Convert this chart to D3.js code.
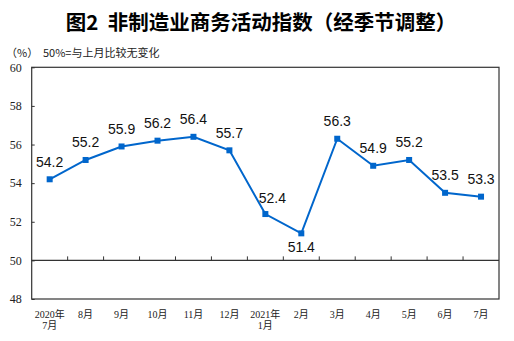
<!DOCTYPE html>
<html>
<head>
<meta charset="utf-8">
<script src="https://cdn.jsdelivr.net/npm/d3@7"></script>
<style>
  html, body { margin: 0; padding: 0; background: #fff; }
  svg { display: block; }
</style>
</head>
<body>
<svg id="chart" width="514" height="341"></svg>
<script>
// Months (two-line labels split on "\n") and index values
const categories = ["2020年\n7月", "8月", "9月", "10月", "11月", "12月", "2021年\n1月",
                    "2月", "3月", "4月", "5月", "6月", "7月"];
const values = [54.2, 55.2, 55.9, 56.2, 56.4, 55.7, 52.4, 51.4, 56.3, 54.9, 55.2, 53.5, 53.3];
const yTicks = [48, 50, 52, 54, 56, 58, 60];

const svg = d3.select("#chart");
const plotLeft = 31.7, plotRight = 499, plotTop = 67.3, plotBottom = 299;
const blue = "#0066cc";
const ink = "#222";

const x = d3.scaleBand().domain(d3.range(categories.length)).range([plotLeft, plotRight]).padding(0);
const y = d3.scaleLinear().domain([48, 60]).range([plotBottom, plotTop]);

// Title and notes
svg.append("text")
  .attr("x", 261).attr("y", 21)
  .attr("text-anchor", "middle").attr("dominant-baseline", "central")
  .attr("font-family", "'Noto Sans CJK SC', sans-serif")
  .attr("font-weight", "bold").attr("font-size", 20.5).attr("fill", "#000")
  .style("white-space", "pre")
  .text("图2  非制造业商务活动指数（经季节调整）");

svg.append("text")
  .attr("x", 6).attr("y", 57)
  .attr("font-family", "'Noto Sans CJK SC', sans-serif")
  .attr("font-size", 11).attr("fill", ink)
  .text("（%）");
svg.append("text")
  .attr("x", 43).attr("y", 57)
  .attr("font-family", "'Noto Sans CJK SC', sans-serif")
  .attr("font-size", 11).attr("fill", ink)
  .text("50%=与上月比较无变化");

// Plot frame
svg.append("rect")
  .attr("x", plotLeft).attr("y", plotTop)
  .attr("width", plotRight - plotLeft).attr("height", plotBottom - plotTop)
  .attr("fill", "none").attr("stroke", "#333").attr("stroke-width", 1.2);

// Y axis with short inward ticks
const yAxis = d3.axisLeft(y).tickValues(yTicks).tickSizeInner(-3).tickSizeOuter(0).tickPadding(10);
const gy = svg.append("g").attr("transform", `translate(${plotLeft},0)`).call(yAxis);
gy.select(".domain").remove();
gy.selectAll(".tick line").attr("stroke", "#333");
gy.selectAll(".tick text")
  .attr("font-family", "'Liberation Serif', serif")
  .attr("font-size", 12).attr("fill", ink);

// 50% reference line with month separators pointing up
svg.append("line")
  .attr("x1", plotLeft).attr("x2", plotRight)
  .attr("y1", y(50)).attr("y2", y(50))
  .attr("stroke", "#333").attr("stroke-width", 1.2);
const boundaries = d3.range(1, categories.length);
svg.append("g").selectAll("line").data(boundaries).join("line")
  .attr("x1", d => x(d)).attr("x2", d => x(d))
  .attr("y1", y(50)).attr("y2", y(50) - 4)
  .attr("stroke", "#333").attr("stroke-width", 1);

// X axis month labels
const xAxis = d3.axisBottom(x).tickSize(0).tickPadding(0).tickFormat(i => categories[i]);
const gx = svg.append("g").attr("transform", `translate(0,${plotBottom})`).call(xAxis);
gx.select(".domain").remove();
gx.selectAll(".tick text").each(function(i) {
  const t = d3.select(this);
  const lines = categories[i].split("\n");
  t.text(null).attr("y", 0).attr("dy", null)
    .attr("font-family", "'Liberation Serif', 'Noto Sans CJK SC', serif")
    .attr("font-size", 10).attr("fill", ink);
  lines.forEach((ln, k) => {
    t.append("tspan").attr("x", 0).attr("y", 19 + k * 10.5).text(ln);
  });
});

// Series line and square markers
const cx = i => x(i) + x.bandwidth() / 2;
svg.append("path")
  .datum(values)
  .attr("fill", "none").attr("stroke", blue).attr("stroke-width", 2)
  .attr("d", d3.line().x((d, i) => cx(i)).y(d => y(d)));

const ms = 6;
svg.append("g").selectAll("rect").data(values).join("rect")
  .attr("x", (d, i) => cx(i) - ms / 2).attr("y", d => y(d) - ms / 2)
  .attr("width", ms).attr("height", ms).attr("fill", blue);

// Value labels: above each point, below the lowest one, nudged right where the line falls steeply
const minVal = d3.min(values);
const nudgeRight = new Set([6]);
svg.append("g").selectAll("text").data(values).join("text")
  .attr("x", (d, i) => cx(i) + (nudgeRight.has(i) ? 7 : 0))
  .attr("y", (d, i) => d === minVal ? y(d) + 19 : y(d) - (nudgeRight.has(i) ? 11 : 12.5))
  .attr("text-anchor", "middle")
  .attr("font-family", "'Liberation Sans', Arial, sans-serif")
  .attr("font-size", 14).attr("fill", "#111")
  .text(d => d.toFixed(1));
</script>
</body>
</html>
